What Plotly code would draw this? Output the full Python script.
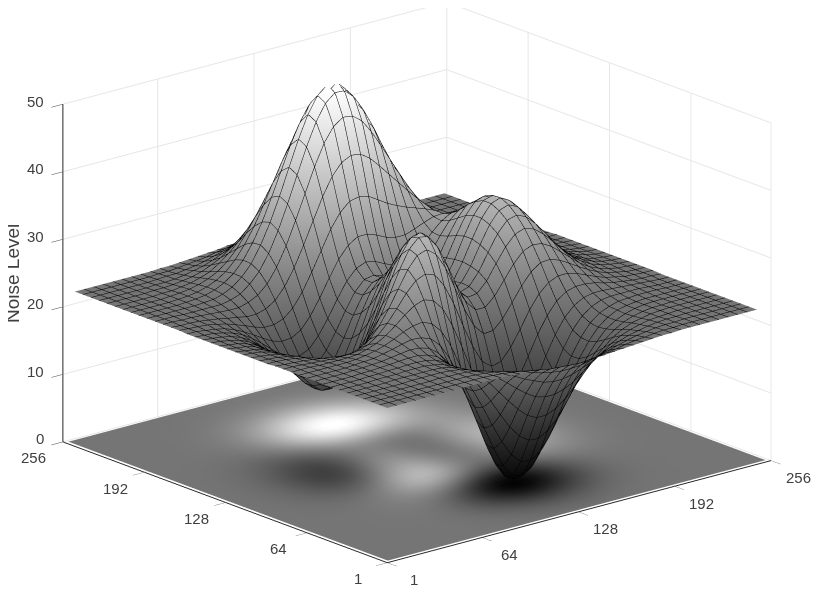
import numpy as np
import plotly.graph_objects as go

title_z = "Noise Level"
tick_xy = [1, 64, 128, 192, 256]
tick_z = [0, 10, 20, 30, 40, 50]
grid_xy = [1.0,7.3,13.6,19.9,26.2,32.5,38.8,45.1,51.4,57.7,64.0,70.3,76.6,82.9,89.2,95.5,101.8,108.1,114.4,120.7,
           127.0,133.3,139.6,145.9,152.2,158.5,164.8,171.1,177.4,183.7,190.0,196.3,202.6,208.9,215.2,221.5,227.8,234.1,240.4,246.7]

noise = [
[22.9,22.9,22.9,22.9,22.9,22.9,22.9,22.9,22.9,22.9,22.9,22.9,22.9,22.8,22.7,22.6,22.5,22.3,22.2,22.1,22.0,22.0,22.1,22.2,22.3,22.4,22.5,22.6,22.7,22.8,22.8,22.9,22.9,22.9,22.9,22.9,22.9,22.9,22.9,22.9],
[22.9,22.9,22.9,22.9,22.9,22.9,22.9,22.9,22.9,22.9,22.9,22.9,22.8,22.7,22.5,22.3,22.0,21.8,21.5,21.4,21.3,21.2,21.3,21.5,21.7,21.9,22.2,22.4,22.5,22.7,22.8,22.8,22.9,22.9,22.9,22.9,22.9,22.9,22.9,22.9],
[22.9,22.9,22.9,22.9,22.9,22.9,22.9,22.9,22.9,22.9,22.9,22.8,22.7,22.5,22.2,21.8,21.4,20.9,20.5,20.2,20.0,20.0,20.1,20.4,20.8,21.2,21.6,22.0,22.3,22.5,22.7,22.8,22.8,22.9,22.9,22.9,22.9,22.9,22.9,22.9],
[22.9,22.9,22.9,22.9,22.9,22.9,22.9,22.9,23.0,22.9,22.9,22.8,22.5,22.2,21.7,21.0,20.3,19.5,18.9,18.3,18.0,18.0,18.3,18.8,19.4,20.1,20.8,21.4,21.9,22.2,22.5,22.7,22.8,22.8,22.9,22.9,22.9,22.9,22.9,22.9],
[22.9,22.9,22.9,22.9,22.9,22.9,23.0,23.0,23.0,23.0,22.9,22.7,22.3,21.8,21.0,20.0,18.9,17.7,16.6,15.7,15.3,15.3,15.7,16.4,17.5,18.6,19.6,20.6,21.4,21.9,22.3,22.6,22.7,22.8,22.9,22.9,22.9,22.9,22.9,22.9],
[22.9,22.9,22.9,22.9,22.9,23.0,23.0,23.0,23.0,23.0,22.9,22.6,22.1,21.3,20.2,18.8,17.1,15.4,13.8,12.5,11.8,11.8,12.4,13.5,15.0,16.6,18.2,19.5,20.7,21.5,22.1,22.4,22.7,22.8,22.9,22.9,22.9,22.9,22.9,22.9],
[22.9,22.9,22.9,22.9,23.0,23.0,23.0,23.1,23.1,23.1,22.9,22.6,22.0,21.0,19.5,17.5,15.3,12.9,10.7,9.0,8.0,7.9,8.7,10.2,12.2,14.4,16.5,18.4,19.9,21.0,21.8,22.3,22.6,22.8,22.8,22.9,22.9,22.9,22.9,22.9],
[22.9,22.9,22.9,22.9,23.0,23.0,23.1,23.1,23.2,23.2,23.1,22.8,22.1,20.9,19.1,16.7,13.9,10.9,8.1,5.8,4.4,4.2,5.1,7.0,9.5,12.2,14.9,17.3,19.2,20.7,21.6,22.2,22.6,22.8,22.9,22.9,22.9,22.9,22.9,22.9],
[22.9,22.9,22.9,22.9,23.0,23.0,23.1,23.2,23.3,23.4,23.4,23.1,22.5,21.3,19.3,16.7,13.5,10.0,6.6,3.7,1.9,1.5,2.4,4.5,7.4,10.6,13.8,16.6,18.8,20.5,21.6,22.3,22.6,22.8,22.9,22.9,22.9,22.9,22.9,22.9],
[22.9,22.9,22.9,22.9,23.0,23.0,23.1,23.2,23.4,23.6,23.8,23.7,23.3,22.2,20.5,17.8,14.5,10.7,6.8,3.5,1.3,0.5,1.3,3.4,6.5,10.0,13.5,16.5,18.9,20.7,21.8,22.4,22.8,22.9,23.0,23.0,23.0,22.9,22.9,22.9],
[22.9,22.9,22.9,22.9,22.9,23.0,23.1,23.2,23.5,23.8,24.2,24.5,24.4,23.9,22.6,20.3,17.2,13.4,9.4,5.7,3.1,1.9,2.3,4.2,7.2,10.7,14.2,17.2,19.6,21.3,22.3,22.9,23.1,23.1,23.1,23.1,23.0,22.9,22.9,22.9],
[22.9,22.9,22.9,22.9,22.9,22.9,23.0,23.2,23.5,23.9,24.5,25.2,25.7,25.9,25.3,23.8,21.3,17.9,13.9,10.1,7.1,5.4,5.4,6.9,9.5,12.7,16.0,18.8,21.0,22.4,23.2,23.5,23.5,23.4,23.3,23.2,23.1,23.0,22.9,22.9],
[22.9,22.9,22.9,22.8,22.8,22.8,22.8,22.9,23.3,23.8,24.6,25.7,26.9,27.9,28.4,27.9,26.3,23.5,20.0,16.2,12.8,10.7,10.1,11.0,13.1,15.9,18.8,21.2,23.0,24.0,24.4,24.4,24.2,23.8,23.5,23.3,23.1,23.0,23.0,22.9],
[22.9,22.9,22.8,22.7,22.6,22.5,22.5,22.5,22.7,23.2,24.2,25.6,27.4,29.3,30.8,31.4,30.9,28.9,25.9,22.2,18.8,16.2,15.1,15.5,17.2,19.5,22.0,24.0,25.3,25.9,25.9,25.5,24.9,24.3,23.8,23.5,23.2,23.1,23.0,23.0],
[22.9,22.8,22.7,22.6,22.4,22.2,22.0,21.8,21.8,22.3,23.2,24.8,27.0,29.5,32.0,33.7,34.2,33.1,30.7,27.3,23.8,21.0,19.5,19.6,21.0,23.0,25.1,26.8,27.8,27.9,27.4,26.6,25.7,24.9,24.2,23.7,23.4,23.1,23.0,23.0],
[22.8,22.8,22.7,22.5,22.2,21.8,21.4,21.0,20.7,20.8,21.5,23.1,25.5,28.5,31.6,34.2,35.6,35.3,33.4,30.3,26.9,24.1,22.6,22.6,23.9,25.9,27.9,29.4,30.0,29.8,29.0,27.8,26.6,25.4,24.5,23.9,23.5,23.2,23.1,23.0],
[22.8,22.7,22.6,22.3,22.0,21.4,20.7,20.0,19.4,19.1,19.5,20.8,23.1,26.3,29.9,33.0,35.1,35.5,34.1,31.3,28.1,25.4,24.0,24.2,25.7,27.9,30.0,31.5,32.0,31.5,30.4,28.9,27.3,25.9,24.9,24.1,23.6,23.3,23.1,23.0],
[22.8,22.7,22.5,22.2,21.7,21.0,20.1,19.0,18.0,17.3,17.3,18.2,20.3,23.5,27.2,30.8,33.3,34.2,33.2,30.8,27.9,25.5,24.3,24.8,26.6,29.1,31.5,33.1,33.5,32.9,31.5,29.8,28.0,26.4,25.1,24.3,23.7,23.3,23.1,23.0],
[22.8,22.7,22.5,22.1,21.5,20.7,19.6,18.2,16.9,15.8,15.3,15.8,17.6,20.7,24.4,28.1,30.9,32.1,31.5,29.5,26.9,24.8,24.0,24.9,27.0,29.8,32.4,34.1,34.6,33.9,32.3,30.4,28.4,26.7,25.3,24.4,23.7,23.3,23.1,23.0],
[22.8,22.6,22.4,22.0,21.4,20.5,19.2,17.7,16.0,14.6,13.8,13.9,15.4,18.2,21.8,25.6,28.5,30.0,29.7,28.0,25.8,24.0,23.6,24.7,27.2,30.2,32.9,34.7,35.2,34.4,32.7,30.7,28.7,26.9,25.4,24.4,23.8,23.4,23.1,23.0],
[22.8,22.6,22.4,22.0,21.3,20.4,19.1,17.4,15.6,14.0,12.9,12.8,14.0,16.5,19.9,23.5,26.4,28.0,28.0,26.6,24.8,23.4,23.2,24.5,27.1,30.2,32.9,34.7,35.1,34.3,32.7,30.7,28.6,26.9,25.4,24.4,23.8,23.4,23.1,23.0],
[22.8,22.6,22.4,22.0,21.4,20.4,19.1,17.5,15.7,14.0,12.8,12.5,13.4,15.6,18.7,22.1,24.9,26.5,26.6,25.5,24.0,22.9,22.9,24.4,26.9,29.8,32.4,34.1,34.6,33.8,32.2,30.3,28.4,26.7,25.3,24.4,23.7,23.3,23.1,23.0],
[22.8,22.7,22.4,22.1,21.5,20.6,19.4,17.9,16.2,14.6,13.4,13.0,13.7,15.6,18.3,21.3,23.9,25.4,25.7,24.9,23.7,22.8,22.9,24.3,26.6,29.3,31.6,33.2,33.5,32.8,31.4,29.6,27.8,26.3,25.1,24.2,23.6,23.3,23.1,23.0],
[22.8,22.7,22.5,22.2,21.7,20.9,19.8,18.5,17.0,15.6,14.5,14.1,14.7,16.4,18.8,21.5,23.9,25.4,25.7,25.2,24.2,23.5,23.6,24.8,26.7,28.9,30.8,32.0,32.3,31.6,30.3,28.8,27.2,25.9,24.8,24.1,23.6,23.2,23.1,23.0],
[22.8,22.7,22.6,22.3,21.9,21.3,20.4,19.3,18.1,16.9,16.1,15.9,16.5,18.1,20.3,22.8,25.1,26.6,27.2,26.9,26.2,25.6,25.5,26.2,27.5,29.0,30.3,31.1,31.1,30.4,29.2,27.9,26.5,25.4,24.5,23.8,23.4,23.2,23.0,23.0],
[22.8,22.8,22.6,22.4,22.1,21.6,20.9,20.1,19.2,18.4,18.0,18.1,18.9,20.6,22.9,25.5,27.9,29.6,30.5,30.5,30.0,29.3,28.9,28.9,29.4,30.0,30.5,30.6,30.2,29.3,28.2,27.0,25.9,24.9,24.2,23.7,23.3,23.1,23.0,23.0],
[22.9,22.8,22.7,22.6,22.3,22.0,21.5,21.0,20.4,20.0,20.0,20.5,21.7,23.7,26.3,29.1,31.9,34.0,35.3,35.6,35.3,34.4,33.5,32.8,32.2,31.7,31.2,30.6,29.7,28.6,27.4,26.3,25.3,24.5,23.9,23.5,23.2,23.1,23.0,22.9],
[22.9,22.8,22.8,22.7,22.5,22.3,22.0,21.8,21.5,21.5,21.9,22.8,24.5,26.9,29.9,33.1,36.3,38.9,40.6,41.3,41.1,40.1,38.6,37.0,35.4,33.8,32.3,30.9,29.5,28.1,26.8,25.8,24.9,24.2,23.7,23.4,23.2,23.0,23.0,22.9],
[22.9,22.9,22.8,22.8,22.7,22.6,22.5,22.4,22.4,22.8,23.5,24.8,26.9,29.7,33.1,36.7,40.3,43.4,45.5,46.5,46.3,45.2,43.2,40.8,38.3,35.8,33.4,31.3,29.4,27.8,26.4,25.3,24.5,23.9,23.5,23.3,23.1,23.0,22.9,22.9],
[22.9,22.9,22.9,22.8,22.8,22.8,22.8,22.8,23.1,23.6,24.7,26.2,28.5,31.5,35.1,39.0,42.8,46.1,48.5,49.7,49.6,48.3,46.0,43.2,40.0,36.9,34.0,31.4,29.2,27.4,26.0,25.0,24.2,23.7,23.4,23.2,23.0,23.0,22.9,22.9],
[22.9,22.9,22.9,22.9,22.9,22.9,23.0,23.1,23.5,24.2,25.3,26.9,29.3,32.3,35.8,39.7,43.5,46.8,49.2,50.4,50.4,49.0,46.7,43.7,40.3,37.0,33.8,31.1,28.8,27.0,25.7,24.7,24.0,23.6,23.3,23.1,23.0,23.0,22.9,22.9],
[22.9,22.9,22.9,22.9,22.9,23.0,23.1,23.3,23.7,24.4,25.4,27.0,29.2,31.9,35.2,38.7,42.2,45.2,47.5,48.6,48.6,47.4,45.2,42.3,39.1,35.9,32.9,30.3,28.1,26.5,25.2,24.4,23.8,23.4,23.2,23.1,23.0,22.9,22.9,22.9],
[22.9,22.9,22.9,22.9,22.9,23.0,23.1,23.3,23.7,24.3,25.2,26.6,28.5,30.8,33.6,36.6,39.5,42.1,44.1,45.1,45.0,44.0,42.1,39.6,36.8,34.0,31.4,29.1,27.2,25.8,24.8,24.1,23.6,23.3,23.1,23.0,23.0,22.9,22.9,22.9],
[22.9,22.9,22.9,22.9,22.9,23.0,23.1,23.3,23.6,24.1,24.8,25.9,27.4,29.3,31.5,33.8,36.1,38.2,39.7,40.5,40.5,39.7,38.2,36.2,33.9,31.7,29.6,27.7,26.3,25.1,24.3,23.8,23.4,23.2,23.1,23.0,22.9,22.9,22.9,22.9],
[22.9,22.9,22.9,22.9,22.9,23.0,23.0,23.2,23.4,23.8,24.3,25.2,26.3,27.6,29.2,30.9,32.7,34.2,35.3,35.9,35.9,35.3,34.2,32.7,31.0,29.3,27.8,26.4,25.3,24.5,23.9,23.5,23.3,23.1,23.0,22.9,22.9,22.9,22.9,22.9],
[22.9,22.9,22.9,22.9,22.9,23.0,23.0,23.1,23.3,23.5,23.9,24.5,25.2,26.2,27.3,28.4,29.6,30.6,31.4,31.8,31.8,31.4,30.6,29.6,28.5,27.3,26.2,25.3,24.6,24.0,23.6,23.3,23.1,23.0,23.0,22.9,22.9,22.9,22.9,22.9],
[22.9,22.9,22.9,22.9,22.9,22.9,23.0,23.0,23.1,23.3,23.6,23.9,24.4,25.0,25.7,26.4,27.2,27.8,28.3,28.6,28.6,28.3,27.8,27.2,26.5,25.7,25.0,24.4,24.0,23.6,23.3,23.2,23.0,23.0,22.9,22.9,22.9,22.9,22.9,22.9],
[22.9,22.9,22.9,22.9,22.9,22.9,22.9,23.0,23.1,23.1,23.3,23.5,23.8,24.2,24.6,25.0,25.5,25.9,26.2,26.3,26.3,26.2,25.9,25.5,25.0,24.6,24.2,23.8,23.5,23.3,23.2,23.0,23.0,22.9,22.9,22.9,22.9,22.9,22.9,22.9],
[22.9,22.9,22.9,22.9,22.9,22.9,22.9,22.9,23.0,23.0,23.1,23.3,23.4,23.6,23.9,24.1,24.4,24.6,24.7,24.8,24.8,24.7,24.6,24.4,24.1,23.9,23.6,23.4,23.3,23.1,23.0,23.0,22.9,22.9,22.9,22.9,22.9,22.9,22.9,22.9],
[22.9,22.9,22.9,22.9,22.9,22.9,22.9,22.9,22.9,23.0,23.0,23.1,23.2,23.3,23.4,23.5,23.7,23.8,23.9,23.9,23.9,23.9,23.8,23.7,23.5,23.4,23.3,23.2,23.1,23.0,23.0,22.9,22.9,22.9,22.9,22.9,22.9,22.9,22.9,22.9],
]
for row in noise:
    assert len(row) == len(grid_xy)

GREY = [[0, "#000000"], [1, "#ffffff"]]
FLAT = dict(ambient=1, diffuse=0, specular=0, fresnel=0, roughness=1)
TEXT = "#404040"
TICK_FONT = dict(family="Liberation Sans", size=15, color=TEXT)

z = np.array(noise)
x = np.array(grid_xy)
# floor: same values; its outer cells stop just inside the axis lines
fx = np.append(x, 254.0)
fx[0] = 3.0
fc = np.pad(z, ((0, 1), (0, 1)), mode="edge")

floor = go.Surface(x=fx, y=fx, z=np.full(fc.shape, 0.05), surfacecolor=fc, cmin=0, cmax=50,
                   colorscale=GREY, showscale=False, lighting=FLAT, hoverinfo="skip",
                   contours=dict(x=dict(highlight=False), y=dict(highlight=False), z=dict(highlight=False)))
line = dict(show=True, start=1.0, end=246.8, size=6.3, color="#000000", width=4, highlight=False)
mesh = go.Surface(x=x, y=x, z=z, cmin=0, cmax=50, colorscale=GREY, showscale=False, lighting=FLAT,
                  hoverinfo="skip", contours=dict(x=line, y=line, z=dict(highlight=False)))

axis = dict(showbackground=False, gridcolor="#e6e6e6", gridwidth=2, showline=True, linecolor="#262626", linewidth=2,
            zeroline=False, ticks="outside", ticklen=15, tickcolor=TEXT, tickwidth=1, showspikes=False,
            showticklabels=False, title=dict(text=""))


def tick_note(px, py, pz, text, **kw):
    return dict(x=px, y=py, z=pz, text=str(text), showarrow=False, font=TICK_FONT, **kw)


notes = []
notes += [tick_note(v, 1, 0, v, xanchor="center", yanchor="middle", xshift=27, yshift=-17) for v in tick_xy]
notes += [tick_note(1, v, 0, v, xanchor="center", yanchor="middle", xshift=-29, yshift=-16) for v in tick_xy]
notes += [tick_note(1, 256, v, v, xanchor="right", yanchor="middle", xshift=-17, yshift=3) for v in tick_z]

ex, ey, ez = -0.6127, -0.7250, 0.3147
R = 3.0
K = 1.653
cx, cy, cz = 0.0063, -0.0053, -0.1026
fig = go.Figure([floor, mesh])
fig.update_layout(
    width=823, height=608, margin=dict(l=0, r=0, t=0, b=0), paper_bgcolor="white",
    scene=dict(
        domain=dict(x=[0, 1], y=[0, 1]),
        xaxis=dict(axis, range=[1, 256], tickvals=tick_xy),
        yaxis=dict(axis, range=[1, 256], tickvals=tick_xy),
        zaxis=dict(axis, range=[0, 50], tickvals=tick_z),
        annotations=notes,
        aspectmode="manual", aspectratio=dict(x=K, y=K, z=0.708 * K),
        camera=dict(projection=dict(type="orthographic"), up=dict(x=0, y=0, z=1),
                    center=dict(x=cx, y=cy, z=cz),
                    eye=dict(x=ex * R + cx, y=ey * R + cy, z=ez * R + cz)),
    ),
    annotations=[dict(text=title_z, xref="paper", yref="paper", x=4 / 823, y=1 - 266 / 608,
                      xanchor="center", yanchor="middle",
                      textangle=-90, showarrow=False, font=dict(family="Liberation Sans", size=19, color=TEXT))],
)
fig.write_html("out.html")
